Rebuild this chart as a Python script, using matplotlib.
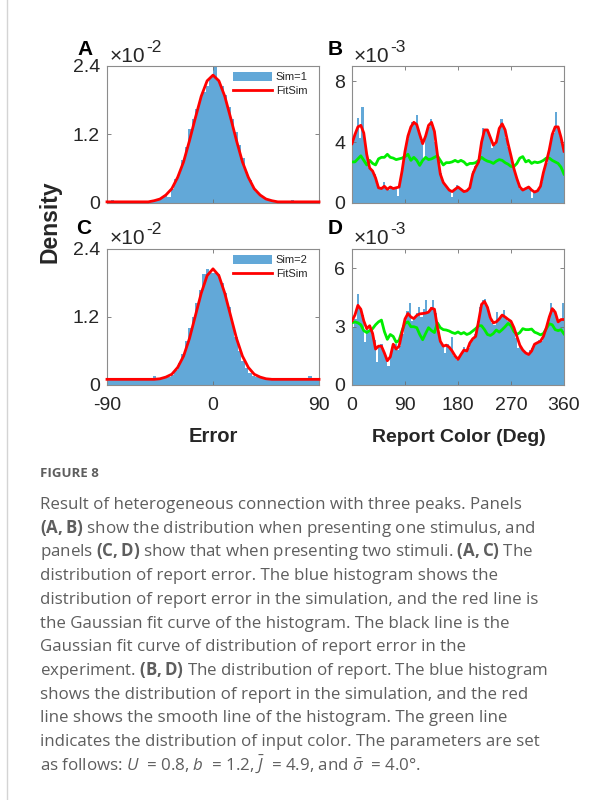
import numpy as np
import matplotlib
matplotlib.use('Agg')
import matplotlib.pyplot as plt
from matplotlib.patches import Patch
from matplotlib.lines import Line2D

W, H = 614, 800

# ---- panels A / C: report error (density x1e-2), 3 deg bins ----
err_edges = np.arange(-90, 91, 3)
hist_a = [0.01, 0.06, 0.01, 0.00, 0.01, 0.00, 0.01, 0.00, 0.01, 0.01,
          0.02, 0.01, 0.02, 0.03, 0.05, 0.08, 0.13, 0.10, 0.25, 0.42,
          0.52, 0.75, 0.98, 1.30, 1.48, 1.65, 1.82, 1.95, 2.05, 2.20,
          2.40, 2.15, 2.05, 1.90, 1.68, 1.48, 1.25, 1.02, 0.78, 0.55,
          0.40, 0.28, 0.20, 0.12, 0.08, 0.05, 0.04, 0.02, 0.02, 0.01,
          0.01, 0.01, 0.06, 0.01, 0.00, 0.01, 0.00, 0.01, 0.00, 0.01]
hist_c = [0.10, 0.09, 0.10, 0.08, 0.09, 0.08, 0.10, 0.09, 0.11, 0.10,
          0.12, 0.13, 0.10, 0.15, 0.10, 0.11, 0.12, 0.14, 0.18, 0.26,
          0.38, 0.55, 0.78, 1.00, 1.20, 1.45, 1.68, 1.95, 2.05, 1.98,
          1.98, 1.95, 1.80, 1.62, 1.38, 1.10, 0.85, 0.60, 0.42, 0.30,
          0.22, 0.16, 0.14, 0.12, 0.10, 0.11, 0.10, 0.09, 0.10, 0.09,
          0.10, 0.09, 0.10, 0.08, 0.09, 0.10, 0.09, 0.15, 0.09, 0.10]
fit_x = np.arange(-90, 91, 5)
fit_a = [0.02, 0.02, 0.02, 0.02, 0.02, 0.02, 0.02, 0.02,
         0.04, 0.07, 0.14, 0.25, 0.45, 0.72, 1.09, 1.49, 1.87, 2.14,
         2.24,
         2.14, 1.87, 1.49, 1.09, 0.72, 0.45, 0.25, 0.14, 0.07, 0.04,
         0.02, 0.02, 0.02, 0.02, 0.02, 0.02, 0.02, 0.02]
fit_c = [0.10, 0.10, 0.10, 0.10, 0.10, 0.10, 0.10, 0.10,
         0.10, 0.11, 0.14, 0.19, 0.31, 0.51, 0.82, 1.22, 1.62, 1.93,
         2.05,
         1.93, 1.62, 1.22, 0.82, 0.51, 0.31, 0.19, 0.14, 0.11, 0.10,
         0.10, 0.10, 0.10, 0.10, 0.10, 0.10, 0.10, 0.10]

# ---- panels B / D: report colour (density x1e-3), 4 deg bins ----
rep_edges = np.arange(0, 361, 4)
hist_b = [4.1, 4.6, 5.6, 4.3, 6.3, 4.2, 3.0, 2.3, 2.2, 1.9,
          1.2, 0.95, 0.9, 1.4, 0.9, 0.85, 1.1, 0.9, 1.0, 0.45,
          1.2, 2.3, 3.3, 4.2, 4.9, 5.3, 5.2, 5.75, 4.8, 4.1,
          2.9, 4.6, 5.0, 5.5, 5.0, 4.0, 2.8, 2.0, 1.4, 1.2,
          1.0, 0.8, 0.4, 0.85, 1.2, 1.0, 0.85, 0.7, 0.75, 0.9,
          1.3, 2.1, 2.4, 2.6, 3.5, 4.9, 4.7, 4.8, 4.4, 3.6,
          3.8, 4.3, 4.9, 5.5, 4.9, 4.3, 3.7, 3.0, 2.4, 1.8,
          1.3, 0.95, 0.85, 1.0, 1.05, 0.9, 0.35, 0.75, 0.8, 1.0,
          1.4, 2.1, 2.6, 3.3, 4.1, 4.6, 6.0, 5.0, 4.4, 3.6]
hist_d = [3.0, 3.4, 4.7, 3.9, 3.6, 2.2, 3.0, 2.8, 2.9, 2.3,
          1.2, 2.0, 2.1, 1.7, 1.5, 1.0, 1.6, 2.0, 2.1, 1.8,
          2.0, 2.6, 3.3, 3.8, 4.2, 3.3, 3.5, 3.7, 4.0, 3.5,
          3.9, 4.35, 3.7, 4.0, 4.4, 3.7, 2.8, 2.2, 2.0, 1.65,
          2.1, 1.9, 2.46, 1.5, 1.3, 1.4, 1.6, 1.95, 1.7, 1.9,
          2.3, 2.3, 2.6, 3.3, 4.0, 4.4, 4.45, 4.0, 3.4, 3.2,
          3.1, 3.76, 3.4, 3.6, 3.85, 3.5, 3.3, 3.3, 2.9, 2.4,
          1.9, 2.0, 1.75, 1.7, 1.6, 1.8, 1.9, 2.1, 2.2, 2.3,
          2.25, 2.5, 2.9, 3.4, 4.2, 3.9, 3.5, 3.2, 3.4, 4.2]
curve_x = np.arange(0, 361, 5)
smooth_b = [3.9, 4.5, 5.0, 5.1, 4.6, 3.2, 2.3, 2.1, 1.65, 1.0,
            0.95, 1.1, 0.9, 1.05, 0.95, 1.0, 1.05, 2.1, 3.4, 4.4,
            5.0, 5.3, 5.15, 4.5, 3.9, 4.4, 5.1, 5.3, 4.7, 3.2,
            1.9, 1.35, 1.1, 0.85, 0.75, 0.9, 1.05, 0.9, 0.75, 0.8,
            1.0, 1.9, 2.35, 2.7, 4.0, 4.8, 4.8, 4.3, 3.8, 4.0,
            4.9, 5.2, 4.8, 3.9, 3.1, 2.25, 1.6, 1.05, 0.85, 0.95,
            1.05, 0.85, 0.72, 0.8, 1.1, 2.0, 2.7, 3.5, 4.5, 5.0,
            5.0, 4.3, 3.4]
input_b = [2.7, 2.7, 2.9, 3.1, 2.8, 2.5, 2.8, 2.6, 2.5, 2.9,
           3.0, 3.0, 3.2, 3.0, 2.95, 2.85, 2.9, 2.95, 3.05, 3.2,
           2.8, 3.0, 2.8, 2.47, 2.8, 3.0, 2.85, 2.9, 3.0, 3.1,
           2.8, 2.5, 2.65, 2.65, 2.7, 2.8, 2.7, 2.8, 2.7, 2.5,
           2.6, 2.6, 2.65, 2.8, 3.0, 2.85, 2.75, 2.7, 2.6, 2.75,
           2.85, 2.8, 2.65, 2.55, 2.4, 2.4, 2.6, 2.95, 3.05, 2.7,
           2.8, 2.6, 2.7, 2.65, 2.7, 2.8, 2.95, 2.95, 2.8, 2.7,
           2.6, 2.35, 1.9]
smooth_d = [3.3, 3.6, 4.1, 3.9, 3.3, 2.9, 3.05, 2.65, 1.85, 2.0,
            2.0, 1.65, 1.25, 1.45, 2.1, 1.85, 2.0, 2.7, 3.4, 3.68,
            3.5, 3.42, 3.58, 3.66, 3.68, 3.7, 3.75, 3.95, 3.9, 3.0,
            2.25, 2.0, 2.05, 1.95, 1.75, 1.5, 1.32, 1.57, 1.8, 1.75,
            2.16, 2.38, 2.5, 3.3, 4.15, 4.3, 4.0, 3.45, 3.2, 3.25,
            3.4, 3.6, 3.5, 3.38, 3.28, 2.95, 2.5, 2.05, 1.8, 1.65,
            1.57, 1.75, 2.1, 2.18, 2.25, 2.5, 2.95, 3.5, 3.93, 3.75,
            3.25, 3.37, 3.37]
input_d = [3.2, 3.25, 3.2, 3.1, 2.8, 2.7, 2.8, 2.9, 3.1, 3.25,
           3.34, 2.75, 2.35, 2.6, 2.5, 2.2, 2.3, 2.8, 3.17, 3.25,
           3.0, 3.0, 2.95, 2.6, 2.33, 2.65, 2.95, 2.8, 2.7, 3.2,
           2.95, 2.85, 2.83, 2.78, 2.7, 2.65, 2.73, 2.63, 2.7, 2.6,
           2.66, 2.78, 2.9, 3.05, 3.05, 2.85, 2.6, 2.55, 2.65, 2.83,
           2.72, 2.85, 3.0, 3.17, 3.05, 2.75, 2.6, 2.7, 2.9, 2.85,
           2.85, 2.88, 2.72, 2.66, 2.58, 2.65, 2.9, 3.15, 3.1, 2.85,
           2.8, 2.85, 2.63]

caption_lines = [
    "Result of heterogeneous connection with three peaks. Panels",
    r"$\mathbf{(A,B)}$ show the distribution when presenting one stimulus, and",
    r"panels $\mathbf{(C,D)}$ show that when presenting two stimuli. $\mathbf{(A,C)}$ The",
    "distribution of report error. The blue histogram shows the",
    "distribution of report error in the simulation, and the red line is",
    "the Gaussian fit curve of the histogram. The black line is the",
    "Gaussian fit curve of distribution of report error in the",
    r"experiment. $\mathbf{(B,D)}$ The distribution of report. The blue histogram",
    "shows the distribution of report in the simulation, and the red",
    "line shows the smooth line of the histogram. The green line",
    "indicates the distribution of input color. The parameters are set",
    r"as follows: $U$  = 0.8, $b$  = 1.2, $\bar{J}$  = 4.9, and $\bar{\sigma}$  = 4.0°.",
]

HIST = '#62a8d8'
TXT = '#262626'
CAP = '#5e5e5e'
SANS = 'Liberation Sans'
CAPFONT = 'Open Sans'

plt.rcParams['font.family'] = [SANS, 'DejaVu Sans']
plt.rcParams['mathtext.fontset'] = 'custom'
plt.rcParams['mathtext.rm'] = CAPFONT
plt.rcParams['mathtext.it'] = CAPFONT + ':italic'
plt.rcParams['mathtext.bf'] = CAPFONT + ':bold'

fig = plt.figure(figsize=(W / 100, H / 100), dpi=100)


def px(x, y):
    return x / W, 1 - y / H


def box(x0, y0, x1, y1):
    return [x0 / W, 1 - y1 / H, (x1 - x0) / W, (y1 - y0) / H]


def style(ax, xlim, xticks, ylim, yticks, show_x=False):
    ax.set_xlim(*xlim)
    ax.set_ylim(*ylim)
    ax.set_xticks(xticks)
    ax.set_yticks(yticks)
    ax.set_yticklabels([f'{t:g}' for t in yticks])
    if show_x:
        ax.set_xticklabels([f'{t:g}' for t in xticks])
    else:
        ax.set_xticklabels([])
    for s in ax.spines.values():
        s.set_color('#8c8c8c')
        s.set_linewidth(0.8)
    ax.tick_params(direction='in', length=3, width=0.6, color='#707070',
                   top=True, right=True, labelsize=14, labelcolor=TXT, pad=5)
    ax.tick_params(axis='x', pad=9)


ax_a = fig.add_axes(box(107, 66, 319, 203))
ax_b = fig.add_axes(box(352, 66, 564, 203))
ax_c = fig.add_axes(box(107, 249, 319, 385))
ax_d = fig.add_axes(box(352, 249, 564, 385))

# error histograms with gaussian fit
for ax, hist, fit, name in [(ax_a, hist_a, fit_a, 'Sim=1'), (ax_c, hist_c, fit_c, 'Sim=2')]:
    ax.bar(err_edges[:-1], hist, width=np.diff(err_edges), align='edge',
           color=HIST, linewidth=0)
    ax.plot(fit_x, fit, color='red', lw=2.0, clip_on=False, zorder=3)
    style(ax, (-90, 90), [-90, 0, 90], (0, 2.4), [0, 1.2, 2.4], show_x=(ax is ax_c))
    handles = [Patch(facecolor=HIST, edgecolor='none', label=name),
               Line2D([], [], color='red', lw=2.0, label='FitSim')]
    ax.legend(handles=handles, loc='upper left', bbox_to_anchor=(0.595, 0.955),
              frameon=False, fontsize=8, handlelength=3.5, handleheight=0.8,
              handletextpad=0.35, labelspacing=0.35, borderpad=0, borderaxespad=0,
              labelcolor=TXT)

# report histograms with smooth line and input colour distribution
for ax, hist, smooth, inp, top, ticks in [(ax_b, hist_b, smooth_b, input_b, 9, [0, 4, 8]),
                                          (ax_d, hist_d, smooth_d, input_d, 7, [0, 3, 6])]:
    ax.bar(rep_edges[:-1], hist, width=np.diff(rep_edges), align='edge',
           color=HIST, linewidth=0)
    ax.plot(curve_x, inp, color='#00ee00', lw=2.0, zorder=3)
    ax.plot(curve_x, smooth, color='red', lw=2.0, zorder=4)
    style(ax, (0, 360), [0, 90, 180, 270, 360], (0, top), ticks, show_x=(ax is ax_d))

# exponent labels (x10^-n) above each panel
renderer = fig.canvas.get_renderer()
for x0, yb, ex in [(110, 62, '-2'), (354, 62, '-3'), (110, 244, '-2'), (354, 244, '-3')]:
    t = fig.text(*px(x0, yb), '\u00d710', fontsize=15, color=TXT, va='baseline')
    w = t.get_window_extent(renderer).width
    fig.text(*px(x0 + w + 1, yb - 10), ex, fontsize=12.5, color=TXT, va='baseline')

# panel letters
for letter, x, y in [('A', 85, 55), ('B', 335, 55), ('C', 84, 234), ('D', 335, 234)]:
    fig.text(*px(x, y), letter, fontsize=15, fontweight='bold', color='black',
             ha='center', va='baseline')

fig.text(*px(50, 222), 'Density', rotation=90, fontsize=16.5, fontweight='bold',
         color=TXT, ha='center', va='center')
fig.text(*px(213, 436), 'Error', fontsize=14.5, fontweight='bold', color=TXT,
         ha='center', va='center')
fig.text(*px(459, 437), 'Report Color (Deg)', fontsize=14, fontweight='bold',
         color=TXT, ha='center', va='center')

# caption
fig.text(*px(40, 477), 'FIGURE 8', fontsize=9.5, fontweight='bold', color=CAP,
         family=CAPFONT, va='baseline')
for i, line in enumerate(caption_lines):
    fig.text(*px(40, 509 + i * 23.7), line, fontsize=12.2, color=CAP,
             family=CAPFONT, va='baseline')

# thin page rule at the left edge
fig.add_artist(Line2D([7 / W, 7 / W], [0, 1], color='#d4d4d4', lw=1,
                      transform=fig.transFigure))

fig.savefig('out.png', dpi=100)
